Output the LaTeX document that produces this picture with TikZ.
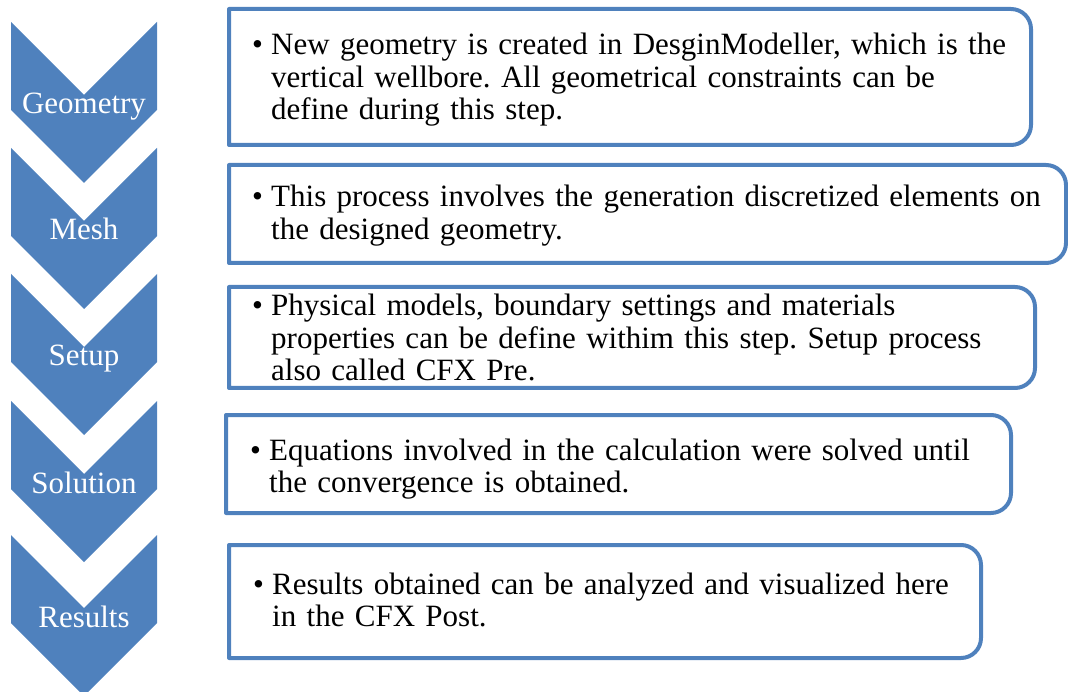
\documentclass[tikz,border=0pt]{standalone}
\usepackage{fontspec}
\setmainfont{Liberation Serif}
\frenchspacing
\definecolor{accent}{HTML}{4F81BD}
\tikzset{
  chev/.style={fill=accent, draw=none},
  chevlabel/.style={text=white, inner sep=0pt, anchor=base,
    font=\fontsize{31}{31}\selectfont},
  boxline/.style={draw=accent, line width=4pt, line join=round},
  bulletmark/.style={inner sep=0pt, anchor=base west,
    font=\fontsize{31}{32.5}\selectfont},
  bodytext/.style={inner sep=0pt, anchor=base west, text width=820pt,
    align=left, font=\fontsize{31}{32.5}\selectfont},
}
% chevron pointing down: #1 name, #2 top edge (px from top), #3 label
\newcommand\chevronstep[3]{%
  \fill[chev] (11,-#2) -- (84,-#2-73) -- (157,-#2) -- (157,-#2-88)
    -- (84,-#2-161) -- (11,-#2-88) -- cycle;
  \node[chevlabel] (#1) at (84,-#2-92) {#3};
}
% box with square left corners and rounded right corners
% #1 name, #2 left, #3 top, #4 right, #5 bottom, #6 text x, #7 baseline, #8 text
\newcommand\infobox[8]{%
  \draw[boxline] (#2,-#5) -- (#2,-#3) -- (#4-20,-#3)
    arc[start angle=90, end angle=0, radius=20pt] -- (#4,-#5+20)
    arc[start angle=0, end angle=-90, radius=20pt] -- cycle;
  \node[bulletmark] (#1b) at (#6-19,-#7) {•};
  \node[bodytext] (#1) at (#6,-#7) {#8};
}
\begin{document}
\begin{tikzpicture}[x=1pt, y=1pt]
  \useasboundingbox (0,0) rectangle (1068,-692);
  \chevronstep{geometry}{22}{Geometry}
  \chevronstep{mesh}{148}{Mesh}
  \chevronstep{setup}{274}{Setup}
  \chevronstep{solution}{401}{Solution}
  \chevronstep{results}{535}{Results}

  \infobox{geotext}{229}{9}{1031}{145}{271}{55}{New geometry is created in DesginModeller, which is the\\
    vertical wellbore. All geometrical constraints can be\\
    define during this step.}
  \infobox{meshtext}{229}{165}{1066}{263}{271}{207}{This process involves the generation discretized elements on\\
    the designed geometry.}
  \infobox{setuptext}{229}{287}{1035}{388}{271}{316}{Physical models, boundary settings and materials\\
    properties can be define withim this step. Setup process\\
    also called CFX Pre.}
  \infobox{soltext}{226}{415}{1011}{513}{269}{460}{Equations involved in the calculation were solved until\\
    the convergence is obtained.}
  \infobox{restext}{229}{545}{981}{658}{272}{594}{Results obtained can be analyzed and visualized here\\
    in the CFX Post.}
\end{tikzpicture}
\end{document}
